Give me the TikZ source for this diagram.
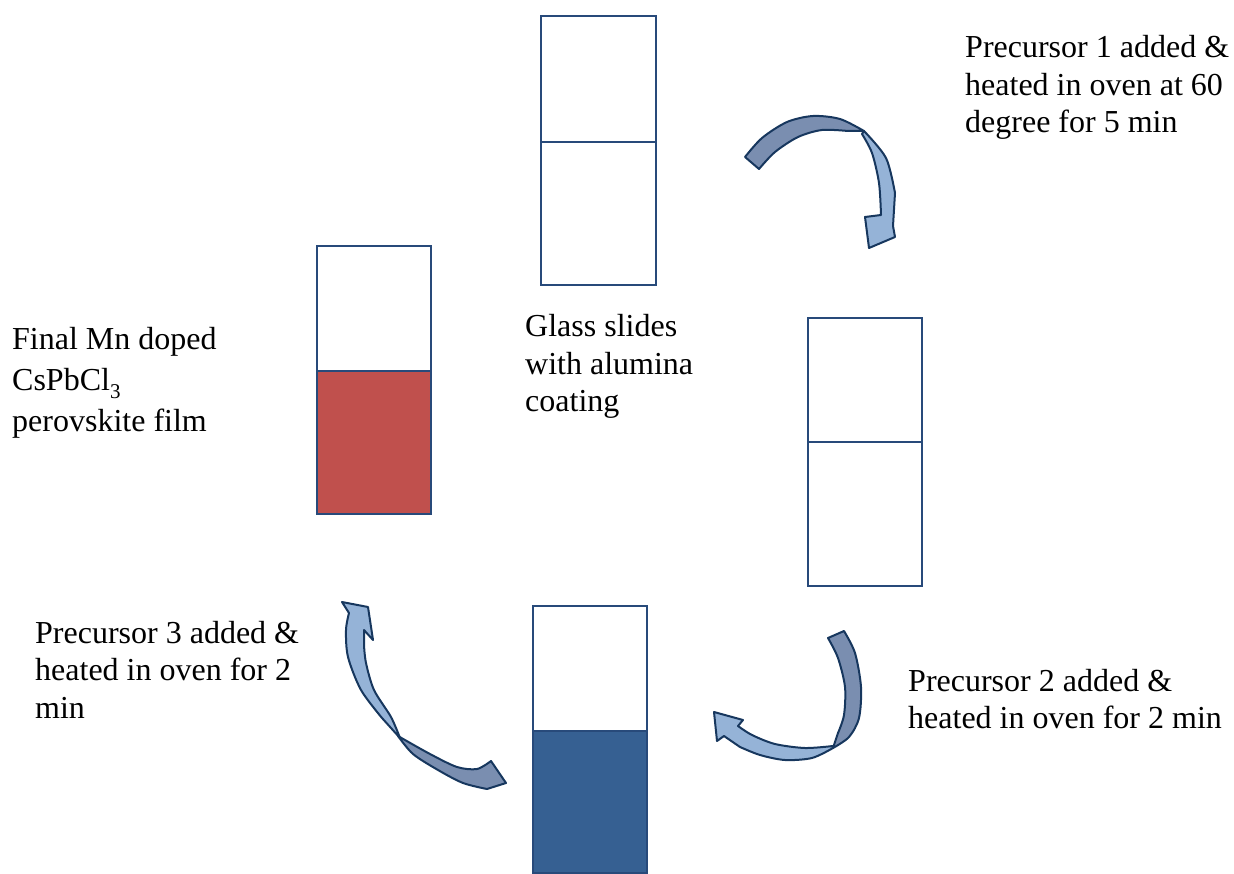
\documentclass[tikz,border=0pt]{standalone}
\usepackage{fontspec}
\setmainfont{Liberation Serif}
\definecolor{edge}{RGB}{23,55,94}
\definecolor{boxline}{RGB}{40,74,122}
\definecolor{darkband}{RGB}{122,142,176}
\definecolor{lightband}{RGB}{149,179,215}
\definecolor{redfill}{RGB}{192,80,77}
\definecolor{bluefill}{RGB}{54,96,146}
\newcommand{\mlines}[1]{\vtop{\halign{##\hfil\cr#1\crcr}}}
\begin{document}
\begin{tikzpicture}[x=1pt,y=-1pt,
  slidebox/.style={draw=boxline,line width=2pt},
  twistdark/.style={fill=darkband,draw=edge,line width=2pt,line join=round},
  twistlight/.style={fill=lightband,draw=edge,line width=2pt,line join=round},
  label/.style={anchor=base west,inner sep=0pt,font=\fontsize{32}{37.5}\selectfont}]
\useasboundingbox (0,0) rectangle (1234,874);
% slides
\draw[slidebox] (541,16) rectangle (656,142);
\draw[slidebox] (541,142) rectangle (656,285);
\draw[slidebox] (808,318) rectangle (922,442);
\draw[slidebox] (808,442) rectangle (922,586);
\draw[slidebox] (317,246) rectangle (431,371);
\draw[slidebox,fill=redfill] (317,371) rectangle (431,514);
\draw[slidebox] (533,606) rectangle (647,731);
\draw[slidebox,fill=bluefill] (533,731) rectangle (647,873);
% arrow 1 (top right)
\filldraw[twistdark] plot[smooth] coordinates {(745,157)(762,138)(787,122)(813,116)(840,119)(864,131)}
  -- plot[smooth] coordinates {(848,131)(822,130)(798,137)(775,152)(759,169)} -- cycle;
\filldraw[twistlight] plot[smooth] coordinates {(862,134)(872,153)(879,183)(881,215)}
  -- (865,217) -- (869,248) -- (895,237) -- (893,226)
  -- plot[smooth] coordinates {(895,193)(886,158)(864,131)} -- cycle;
% arrow 2 (bottom right)
\filldraw[twistdark] plot[smooth] coordinates {(844,631)(855,653)(861,687)(859,718)(849,737)(833,748)}
  -- plot[smooth] coordinates {(838,733)(844,715)(845,687)(838,658)(828,638)} -- cycle;
\filldraw[twistlight] plot[smooth] coordinates {(833,746)(805,748)(775,744)(752,735)(738,726)}
  -- (743,720) -- (714,712) -- (717,741) -- (724,736)
  -- plot[smooth] coordinates {(740,747)(760,755)(785,760)(812,758)(833,748)} -- cycle;
% arrow 3 (bottom left)
\filldraw[twistdark] plot[smooth] coordinates {(398,736)(430,754)(457,767)(477,769)(491,761)}
  -- (506,783) -- plot[smooth] coordinates {(487,789)(463,783)(438,770)(413,754)(398,736)} -- cycle;
\filldraw[twistlight] (349,613) -- (342,602) -- (368,607) -- (373,640) -- (364,630)
  -- plot[smooth] coordinates {(364,645)(366,663)(374,690)(391,717)(400,738)}
  -- plot[smooth] coordinates {(382,718)(361,690)(348,657)(346,630)(349,613)} -- cycle;
% labels
\node[label] (t1) at (965,58) {\mlines{Precursor 1 added \&\cr heated in oven at 60\cr degree for 5 min}};
\node[label] (t2) at (525,337) {\mlines{Glass slides\cr with alumina\cr coating}};
\node[label,font=\fontsize{32}{41}\selectfont] (t3) at (12,350) {\mlines{Final Mn doped\cr CsPbCl\raisebox{-0.22em}{\fontsize{21}{21}\selectfont 3}\cr perovskite film}};
\node[label] (t4) at (35,643) {\mlines{Precursor 3 added \&\cr heated in oven for 2\cr min}};
\node[label] (t5) at (908,691) {\mlines{Precursor 2 added \&\cr heated in oven for 2 min}};
\end{tikzpicture}
\end{document}
